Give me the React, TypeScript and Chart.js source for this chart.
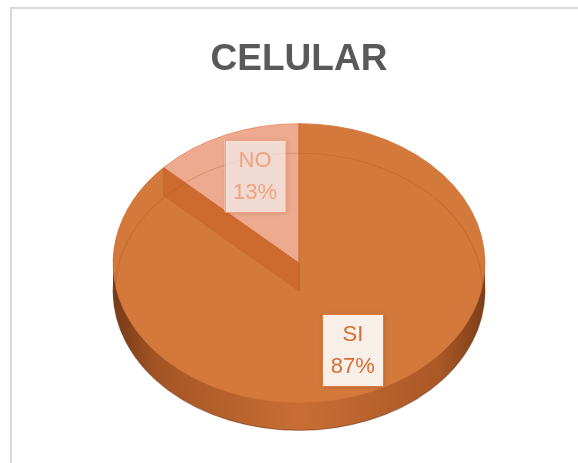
import { useEffect, useRef } from 'react';
import { Chart, registerables } from 'chart.js';

Chart.register(...registerables);

const titleText = 'CELULAR';
const categories = ['SI', 'NO'];
const values = [87, 13];
const sliceColors = ['rgb(211,121,60)', 'rgb(238,170,142)'];
const labelTextColors = ['rgb(212,110,50)', 'rgb(241,163,128)'];
const labelBoxFills = ['rgb(249,239,233)', 'rgba(252,240,235,0.78)'];
const labelBoxStrokes = ['rgb(222,122,62)', 'rgba(240,160,128,0.9)'];

const TILT = 0.75;
const DEPTH = 28;
const CENTER_Y = 263;
const LABEL_RADIUS_X = [0.73, 0.595];
const LABEL_RADIUS_Y = [0.68, 0.68];

const pie3d = {
  id: 'pie3d',
  beforeDatasetsDraw(chart: any) {
    const ctx = chart.ctx;
    const arc = chart.getDatasetMeta(0).data[0];
    const { x, y, outerRadius } = arc.getProps(['x', 'y', 'outerRadius'], true);
    const grad = ctx.createLinearGradient(x - outerRadius, 0, x + outerRadius, 0);
    grad.addColorStop(0, 'rgb(118,58,22)');
    grad.addColorStop(0.12, 'rgb(165,85,36)');
    grad.addColorStop(0.5, 'rgb(200,110,52)');
    grad.addColorStop(0.88, 'rgb(170,88,38)');
    grad.addColorStop(1, 'rgb(125,62,25)');
    for (let k = DEPTH; k >= 1; k--) {
      ctx.save();
      ctx.translate(0, CENTER_Y + k);
      ctx.scale(1, TILT);
      ctx.translate(0, -y);
      ctx.beginPath();
      ctx.arc(x, y, outerRadius, 0, Math.PI * 2);
      ctx.fillStyle = grad;
      ctx.fill();
      if (k === DEPTH) {
        ctx.lineWidth = 1.3;
        ctx.strokeStyle = 'rgba(110,50,20,0.6)';
        ctx.stroke();
      }
      ctx.restore();
    }
    ctx.save();
    ctx.translate(0, CENTER_Y);
    ctx.scale(1, TILT);
    ctx.translate(0, -y);
  },
  afterDatasetsDraw(chart: any) {
    const ctx = chart.ctx;
    ctx.restore();
    const meta = chart.getDatasetMeta(0);
    const arcs = meta.data;
    const { x, y, outerRadius } = arcs[0].getProps(['x', 'y', 'outerRadius'], true);
    const toScreen = (px: number, py: number) => [px, CENTER_Y + (py - y) * TILT];

    // inner wall of the big slice, seen through the transparent small slice
    const endA = arcs[0].getProps(['endAngle'], true).endAngle;
    const [ax, ay] = toScreen(x, y);
    const [bx, by] = toScreen(x + Math.cos(endA) * outerRadius, y + Math.sin(endA) * outerRadius);
    ctx.save();
    ctx.beginPath();
    ctx.moveTo(ax, ay);
    ctx.lineTo(bx, by);
    ctx.lineTo(bx, by + DEPTH);
    ctx.lineTo(ax, ay + DEPTH);
    ctx.closePath();
    ctx.fillStyle = 'rgb(205,106,46)';
    ctx.fill();
    ctx.strokeStyle = 'rgba(190,95,40,0.5)';
    ctx.lineWidth = 0.8;
    ctx.stroke();

    // vertical seam at the top boundary
    const startA = arcs[0].getProps(['startAngle'], true).startAngle;
    const [tx, ty] = toScreen(x + Math.cos(startA) * outerRadius, y + Math.sin(startA) * outerRadius);
    ctx.beginPath();
    ctx.moveTo(ax, ay + DEPTH);
    ctx.lineTo(tx, ty);
    ctx.strokeStyle = 'rgba(185,90,35,0.7)';
    ctx.lineWidth = 1;
    ctx.stroke();

    // faint bottom rim seen through the top face
    ctx.translate(0, CENTER_Y + DEPTH);
    ctx.scale(1, TILT);
    ctx.translate(0, -y);
    ctx.beginPath();
    ctx.arc(x, y, outerRadius - 2, Math.PI, Math.PI * 2);
    ctx.strokeStyle = 'rgba(175,80,28,0.35)';
    ctx.lineWidth = 1.2;
    ctx.stroke();
    ctx.restore();

    // data labels
    const total = values.reduce((a, b) => a + b, 0);
    arcs.forEach((el: any, i: number) => {
      const p = el.getProps(['startAngle', 'endAngle'], true);
      const mid = (p.startAngle + p.endAngle) / 2;
      const [lx, ly] = toScreen(
        x + Math.cos(mid) * outerRadius * LABEL_RADIUS_X[i],
        y + Math.sin(mid) * outerRadius * LABEL_RADIUS_Y[i]
      );
      const w = 61;
      const h = 72;
      ctx.save();
      ctx.shadowColor = 'rgba(0,0,0,0.22)';
      ctx.shadowBlur = 5;
      ctx.shadowOffsetX = 1;
      ctx.shadowOffsetY = 1;
      ctx.fillStyle = labelBoxFills[i];
      ctx.fillRect(lx - w / 2, ly - h / 2, w, h);
      ctx.restore();
      ctx.save();
      ctx.strokeStyle = labelBoxStrokes[i];
      ctx.lineWidth = 1;
      ctx.strokeRect(Math.round(lx - w / 2) + 0.5, Math.round(ly - h / 2) + 0.5, w, h);
      ctx.fillStyle = labelTextColors[i];
      ctx.font = '22px "Liberation Sans", Arial, sans-serif';
      ctx.textAlign = 'center';
      ctx.textBaseline = 'middle';
      ctx.fillText(categories[i], lx, ly - 15);
      ctx.fillText(Math.round((values[i] / total) * 100) + '%', lx, ly + 17);
      ctx.restore();
    });
  },
};

export default function App() {
  const canvasRef = useRef<HTMLCanvasElement | null>(null);

  useEffect(() => {
    if (!canvasRef.current) return;
    const chart = new Chart(canvasRef.current, {
      type: 'pie',
      data: {
        labels: categories,
        datasets: [
          {
            data: values,
            backgroundColor: sliceColors,
            borderColor: ['rgb(214,118,58)', 'rgb(236,140,96)'],
            borderWidth: 1,
          },
        ],
      },
      options: {
        responsive: false,
        animation: false,
        events: [],
        layout: { padding: { left: 20, right: 0, top: 0, bottom: 8 } },
        plugins: {
          legend: { display: false },
          tooltip: { enabled: false },
          title: {
            display: true,
            text: titleText,
            color: '#595959',
            font: { family: '"Liberation Sans", Arial, sans-serif', size: 37, weight: 'bold' },
            padding: { top: 38, bottom: 0 },
          },
        },
      },
      plugins: [pie3d],
    });
    return () => chart.destroy();
  }, []);

  return (
    <div style={{ position: 'fixed', left: 0, top: 0, width: 578, height: 463, background: '#fff', overflow: 'hidden' }}>
      <canvas ref={canvasRef} width={578} height={463} style={{ display: 'block', position: 'absolute', left: 0, top: 0 }} />
      <div
        style={{
          position: 'absolute',
          left: 10,
          top: 7,
          width: 600,
          height: 500,
          borderLeft: '2px solid #d9d9d9',
          borderTop: '2px solid #d9d9d9',
          pointerEvents: 'none',
        }}
      />
    </div>
  );
}
